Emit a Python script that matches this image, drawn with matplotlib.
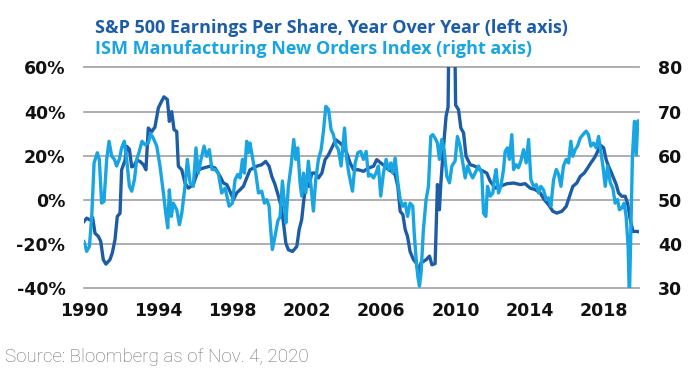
import matplotlib.pyplot as plt
import numpy as np

# S&P 500 EPS, year over year change (%), left axis
eps_years = [1990.00, 1990.15, 1990.33, 1990.48, 1990.61, 1990.80, 1990.93, 1991.07, 1991.22, 1991.44,
             1991.57, 1991.72, 1991.85, 1992.00, 1992.09, 1992.28, 1992.37, 1992.52, 1992.65, 1992.78,
             1992.93, 1993.11, 1993.30, 1993.44, 1993.57, 1993.76, 1993.94, 1994.13, 1994.31, 1994.44,
             1994.63, 1994.74, 1994.87, 1995.00, 1995.15, 1995.24, 1995.43, 1995.61, 1995.80, 1996.07,
             1996.35, 1996.63, 1997.00, 1997.28, 1997.56, 1997.74, 1997.93, 1998.11, 1998.30, 1998.48,
             1998.67, 1998.85, 1999.04, 1999.22, 1999.41, 1999.59, 1999.87, 2000.09, 2000.28, 2000.43,
             2000.61, 2000.80, 2000.95, 2001.08, 2001.21, 2001.35, 2001.58, 2001.82, 2001.95, 2002.09,
             2002.21, 2002.32, 2002.50, 2002.65, 2002.84, 2003.02, 2003.21, 2003.39, 2003.58, 2003.80,
             2003.98, 2004.22, 2004.41, 2004.59, 2004.78, 2004.97, 2005.24, 2005.52, 2005.80, 2006.08,
             2006.26, 2006.48, 2006.72, 2006.91, 2007.09, 2007.28, 2007.43, 2007.56, 2007.71, 2007.84,
             2007.97, 2008.11, 2008.30, 2008.45, 2008.58, 2008.71, 2008.85, 2009.00, 2009.19, 2009.32,
             2009.50, 2009.63, 2009.74, 2009.82, 2009.97, 2010.11, 2010.22, 2010.30, 2010.55, 2010.64,
             2010.80, 2010.93, 2011.08, 2011.22, 2011.45, 2011.72, 2012.00, 2012.19, 2012.37, 2012.56,
             2012.84, 2013.12, 2013.49, 2013.86, 2014.23, 2014.50, 2014.78, 2015.06, 2015.34, 2015.56,
             2015.80, 2016.04, 2016.26, 2016.54, 2016.78, 2016.97, 2017.15, 2017.37, 2017.56, 2017.78,
             2017.97, 2018.15, 2018.34, 2018.49, 2018.67, 2018.86, 2019.00, 2019.13, 2019.26, 2019.41,
             2019.56, 2019.69, 2019.87, 2020.06, 2020.19, 2020.34, 2020.49, 2020.71, 2020.83]
eps_yoy = [-9.7, -8.2, -9, -8, -15, -16.5, -18.7, -27, -29, -27,
           -24, -18, -7.4, -6, 13.7, 18, 24.3, 23, 15, 15.5,
           18, 17.5, 16, 13.7, 32.6, 31, 33, 41.7, 44.7, 46.7,
           45.5, 35.6, 40, 31.9, 31, 15.3, 13.7, 7.7, 5.4, 7,
           13.7, 14.5, 15.3, 14.5, 10.7, 7.7, 7, 3.9, 0.2, 3.2,
           4.7, 6.2, 10, 13.7, 14.5, 15.3, 16, 17.5, 15.3, 10.7,
           7, 1.7, -2.9, -10.4, -19.5, -22.5, -23.3, -21, -13.4, -8.9,
           0.2, 7.7, 6.2, 12.2, 12.2, 10, 12.2, 18.3, 20.5, 24.3,
           27.3, 25.8, 24.3, 21.3, 16.8, 13.7, 13.7, 13, 14.5, 15.3,
           18.3, 16.8, 15.3, 13.7, 13, 11.5, 6.2, -5.1, -6.6, -13.4,
           -16.5, -23.3, -27, -28.5, -33, -28.5, -27.8, -27, -25.4, -29.3,
           -28.8, 7, -4.4, 7.7, 24.3, 38, 42, 100, 100, 43,
           40.9, 32.6, 30.4, 19.8, 16, 15.3, 13.7, 13, 12.2, 8.5,
           5.4, 6.2, 7.4, 7.7, 7, 7.4, 5.4, 4.7, 3.2, 0.2,
           -2.1, -5.1, -5.9, -5.1, -2.9, 1.7, 6.2, 7.7, 10.7, 12.2,
           14.5, 16.8, 19, 21.3, 25, 23.6, 18.3, 15.3, 13, 10,
           7, 3.2, 1.7, 1.7, -1.4, -8.9, -14.2, -14.2, -14.4]

# ISM manufacturing new orders index, right axis
ism_years = [1990.00, 1990.15, 1990.30, 1990.43, 1990.56, 1990.74, 1990.85, 1990.98, 1991.11, 1991.26,
             1991.39, 1991.54, 1991.69, 1991.81, 1991.96, 1992.09, 1992.24, 1992.37, 1992.52, 1992.65,
             1992.80, 1992.93, 1993.07, 1993.22, 1993.39, 1993.57, 1993.70, 1993.85, 1994.04, 1994.22,
             1994.41, 1994.54, 1994.65, 1994.74, 1994.85, 1994.96, 1995.15, 1995.30, 1995.43, 1995.61,
             1995.74, 1995.89, 1996.07, 1996.22, 1996.35, 1996.50, 1996.67, 1996.81, 1996.96, 1997.11,
             1997.28, 1997.46, 1997.65, 1997.84, 1998.06, 1998.24, 1998.39, 1998.54, 1998.67, 1998.80,
             1998.91, 1999.04, 1999.13, 1999.22, 1999.41, 1999.54, 1999.69, 1999.87, 2000.02, 2000.15,
             2000.28, 2000.34, 2000.46, 2000.61, 2000.76, 2000.89, 2001.02, 2001.13, 2001.21, 2001.35,
             2001.50, 2001.65, 2001.76, 2001.87, 2002.00, 2002.09, 2002.19, 2002.32, 2002.46, 2002.61,
             2002.74, 2002.87, 2003.02, 2003.17, 2003.30, 2003.43, 2003.58, 2003.72, 2003.85, 2003.98,
             2004.13, 2004.28, 2004.47, 2004.59, 2004.72, 2004.91, 2005.06, 2005.21, 2005.37, 2005.52,
             2005.67, 2005.80, 2005.93, 2006.08, 2006.22, 2006.35, 2006.48, 2006.63, 2006.78, 2006.91,
             2007.04, 2007.15, 2007.28, 2007.41, 2007.56, 2007.71, 2007.84, 2007.97, 2008.11, 2008.26,
             2008.34, 2008.45, 2008.54, 2008.63, 2008.72, 2008.85, 2009.00, 2009.13, 2009.26, 2009.37,
             2009.50, 2009.63, 2009.74, 2009.87, 2010.00, 2010.15, 2010.30, 2010.43, 2010.61, 2010.74,
             2010.89, 2011.04, 2011.17, 2011.30, 2011.45, 2011.59, 2011.72, 2011.91, 2012.09, 2012.19,
             2012.32, 2012.41, 2012.56, 2012.71, 2012.78, 2012.89, 2013.02, 2013.15, 2013.30, 2013.39,
             2013.52, 2013.63, 2013.76, 2013.86, 2014.00, 2014.13, 2014.26, 2014.41, 2014.56, 2014.69,
             2014.82, 2014.97, 2015.12, 2015.25, 2015.37, 2015.52, 2015.67, 2015.80, 2015.93, 2016.08,
             2016.23, 2016.36, 2016.49, 2016.63, 2016.78, 2016.91, 2017.04, 2017.15, 2017.28, 2017.41,
             2017.56, 2017.71, 2017.89, 2018.02, 2018.15, 2018.30, 2018.45, 2018.58, 2018.71, 2018.82,
             2018.95, 2019.08, 2019.23, 2019.37, 2019.50, 2019.63, 2019.74, 2019.87, 2020.00, 2020.11,
             2020.22, 2020.29, 2020.46, 2020.57, 2020.67, 2020.76, 2020.83]
ism_new_orders = [40.6, 38.4, 39.5, 46.3, 58.4, 60.7, 59.2, 49.3, 49.7, 59.2,
                  63.3, 59.9, 59.2, 57.7, 59.2, 61.8, 63.3, 59.2, 53.1, 52,
                  54.6, 59.2, 61, 63.3, 62.5, 62.9, 65, 64, 62.2, 57.7,
                  51.6, 47, 43.7, 52.3, 46.3, 49.3, 47.8, 44.4, 47, 53.1,
                  59.2, 53.9, 53.1, 61.8, 56.1, 59.2, 62.2, 59.9, 61.4, 56.9,
                  56.9, 56.1, 51.6, 52.7, 48.6, 49.3, 54.6, 55.8, 55, 59.2,
                  56.1, 63.3, 60.7, 62.9, 58.4, 56.1, 51.6, 52, 49.3, 50.1,
                  48.6, 44.8, 38.8, 41.8, 45.2, 46.3, 54.3, 49.3, 44.8, 53.1,
                  57.7, 63.7, 59.2, 61.8, 53.9, 50.9, 56.1, 51.6, 58.8, 53.1,
                  47.5, 54.6, 59.2, 61.4, 65.6, 71.2, 70.5, 66, 64.8, 62.5,
                  61.4, 57.7, 66.3, 59.2, 55.8, 52, 58.4, 60.7, 61, 59.2,
                  61, 55.4, 55.8, 55, 56.1, 57.7, 50.9, 56.1, 59.2, 56.9,
                  58.4, 56.1, 59.5, 54.6, 50.1, 48.6, 49.3, 46.3, 49.3, 48.6,
                  42.5, 36.5, 32.7, 30.5, 33.5, 43.3, 50.1, 53.1, 64.4, 64.8,
                  64, 62.9, 59.2, 63.7, 61.4, 55.4, 53.9, 57.7, 58.8, 64.4,
                  62.2, 58.4, 55, 57.7, 56.1, 55, 56.1, 57.7, 56.1, 47,
                  46.3, 53.1, 50.9, 51.6, 54.6, 56.9, 51.6, 53.1, 56.9, 61,
                  61.8, 59.2, 64.8, 56.9, 58, 57.3, 58.8, 61.4, 58.4, 63.7,
                  54.6, 53.1, 53.5, 51.6, 53.1, 52.3, 50.1, 50.5, 48.6, 54.6,
                  56.9, 55.8, 53.1, 57.7, 59.2, 58.4, 63.3, 59.9, 61.4, 62.2,
                  64, 64.8, 65.6, 64.8, 62.2, 62.9, 61.8, 64.4, 60.7, 57.7,
                  53.1, 57.7, 53.9, 52.7, 49.3, 50.1, 47.8, 48.2, 49.3, 46.3,
                  39.5, 27.5, 60, 67.8, 60.2, 67.9, 67.9]

year_labels = ['1990', '1994', '1998', '2002', '2006', '2010', '2014', '2018']
left_ticks = [-40, -20, 0, 20, 40, 60]
right_ticks = [30, 40, 50, 60, 70, 80]

dark = '#1d5ca6'
light = '#19a4e2'

fig = plt.figure(figsize=(7, 3.77), dpi=100)
ax = fig.add_axes([0.12, 0.235, 0.793, 0.586])
ax2 = ax.twinx()

ax.plot(eps_years, eps_yoy, color=dark, lw=2.4)
ax2.plot(ism_years, ism_new_orders, color=light, lw=2.4)

ax.set_xlim(eps_years[0], eps_years[-1])
ax.set_ylim(-40, 60)
ax2.set_ylim(30, 80)

ax.set_yticks(left_ticks)
ax.set_yticklabels([f'{t}%' for t in left_ticks])
ax2.set_yticks(right_ticks)
ax2.set_yticklabels([str(t) for t in right_ticks])
# the category labels in the original sit a bit off the real dates
ax.set_xticks(np.linspace(1990.0, 2018.9, len(year_labels)))
ax.set_xticklabels(year_labels)

ax.grid(axis='y', color='#a8a8a8', lw=1.3)
ax.grid(axis='x', visible=False)
for gl in ax.get_ygridlines():
    gl.set_clip_on(False)

for a in (ax, ax2):
    for s in a.spines.values():
        s.set_visible(False)
ax.tick_params(axis='y', length=0, pad=13.5, labelsize=12.5)
ax.tick_params(axis='x', length=0, pad=10, labelsize=12.5)
ax2.tick_params(axis='y', length=0, pad=13.5, labelsize=12.5)
for lab in ax.get_xticklabels() + ax.get_yticklabels() + ax2.get_yticklabels():
    lab.set_fontweight('bold')
    lab.set_color('#111111')

fig.text(95 / 700, 1 - 33 / 377, 'S&P 500 Earnings Per Share, Year Over Year (left axis)',
         color=dark, fontsize=13, fontweight='bold', family='Open Sans', va='baseline')
fig.text(95 / 700, 1 - 54 / 377, 'ISM Manufacturing New Orders Index (right axis)',
         color=light, fontsize=13, fontweight='bold', family='Open Sans', va='baseline')
fig.text(5 / 700, 1 - 362 / 377, 'Source: Bloomberg as of Nov. 4, 2020',
         color='#6e6e6e', fontsize=13.5, fontweight='light', family='Roboto', va='baseline')

fig.savefig('out.png', dpi=100)
